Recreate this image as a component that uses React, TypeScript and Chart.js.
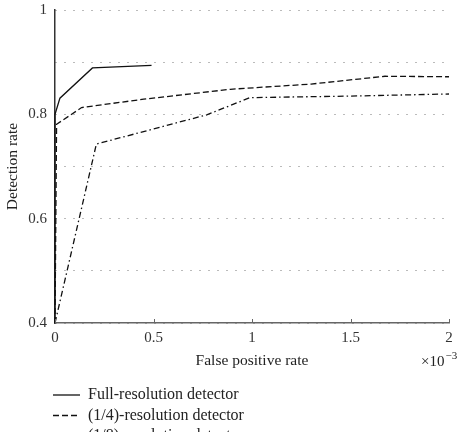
import React, { useEffect, useRef } from "react";
import { Chart, registerables } from "chart.js";

Chart.register(...registerables);

// False positive rate in units of 1e-3
const fullX = [0, 0, 0.025, 0.19, 0.49];
const fullY = [0.4, 0.8, 0.831, 0.889, 0.894];

const quarterX = [0, 0.008, 0.135, 0.45, 0.89, 1.3, 1.675, 2.0];
const quarterY = [0.4, 0.781, 0.813, 0.829, 0.848, 0.858, 0.873, 0.872];

const eighthX = [0, 0.21, 0.77, 0.99, 1.5, 2.0];
const eighthY = [0.4, 0.743, 0.799, 0.832, 0.835, 0.839];

const seriesNames = [
  "Full-resolution detector",
  "(1/4)-resolution detector",
  "(1/8)-resolution detector",
];
const xTicks = [0, 0.5, 1, 1.5, 2];
const yLabeled = ["0.4", "0.6", "0.8", "1"];
const xTitle = "False positive rate";
const yTitle = "Detection rate";
const multiplierBase = "×10";
const multiplierExp = "−3";

const FONT = "'Liberation Serif', 'DejaVu Serif', serif";
const dashes: number[][] = [[], [6, 3], [6, 3, 1.5, 3]];

export default function App() {
  const ref = useRef<HTMLCanvasElement>(null);

  useEffect(() => {
    if (!ref.current) return;
    const pts = (xs: number[], ys: number[]) => xs.map((x, i) => ({ x, y: ys[i] }));

    const overlay = {
      id: "overlay",
      afterDraw(chart: any) {
        const { ctx, chartArea, scales } = chart;
        const xs = scales.x;
        ctx.save();
        // inward x ticks
        ctx.strokeStyle = "#666";
        ctx.lineWidth = 1;
        xTicks.forEach((v) => {
          const px = Math.round(xs.getPixelForValue(v)) + 0.5;
          ctx.beginPath();
          ctx.moveTo(px, chartArea.bottom);
          ctx.lineTo(px, chartArea.bottom - 4);
          ctx.stroke();
        });
        // multiplier label
        ctx.fillStyle = "#222";
        ctx.textBaseline = "middle";
        ctx.textAlign = "left";
        ctx.font = `15px ${FONT}`;
        ctx.fillText(multiplierBase, 421, chartArea.bottom + 39);
        const bw = ctx.measureText(multiplierBase).width;
        ctx.font = `11px ${FONT}`;
        ctx.fillText(multiplierExp, 421 + bw + 1, chartArea.bottom + 33);
        // legend
        ctx.font = `16px ${FONT}`;
        chart.data.datasets.forEach((ds: any, i: number) => {
          const y = chartArea.bottom + 72 + i * 20.5;
          ctx.setLineDash(dashes[i]);
          ctx.strokeStyle = "#111";
          ctx.lineWidth = 1.3;
          ctx.beginPath();
          ctx.moveTo(53, y);
          ctx.lineTo(80, y);
          ctx.stroke();
          ctx.setLineDash([]);
          ctx.fillStyle = "#222";
          ctx.fillText(ds.label, 88, y);
        });
        ctx.restore();
      },
    };

    const chart = new Chart(ref.current, {
      type: "line",
      data: {
        datasets: [
          { label: seriesNames[0], data: pts(fullX, fullY), borderColor: "#111", borderWidth: 1.3, borderDash: dashes[0], clip: false },
          { label: seriesNames[1], data: pts(quarterX, quarterY), borderColor: "#111", borderWidth: 1.3, borderDash: dashes[1], clip: false },
          { label: seriesNames[2], data: pts(eighthX, eighthY), borderColor: "#111", borderWidth: 1.3, borderDash: dashes[2], clip: false },
        ] as any,
      },
      options: {
        animation: false,
        responsive: false,
        layout: { padding: { left: 0, right: 13, top: 10, bottom: 59 } },
        plugins: { legend: { display: false }, tooltip: { enabled: false } },
        elements: { point: { radius: 0 }, line: { tension: 0 } },
        scales: {
          x: {
            type: "linear",
            min: 0,
            max: 2,
            ticks: {
              stepSize: 0.5,
              padding: 6,
              color: "#333",
              font: { family: FONT, size: 15 },
              maxRotation: 0,
              callback: (v: any) => String(Math.round(Number(v) * 10) / 10),
            },
            grid: { display: false, drawTicks: false },
            border: { display: true, color: "#666", width: 1.5 },
            title: { display: true, text: xTitle, color: "#222", font: { family: FONT, size: 15.5 }, padding: { top: 4, bottom: 3 } },
            afterFit: (s: any) => { s.height = 50; },
          },
          y: {
            type: "linear",
            min: 0.4,
            max: 1,
            ticks: {
              stepSize: 0.1,
              padding: 8,
              color: "#333",
              font: { family: FONT, size: 15 },
              callback: (v: any) => {
                const s = String(Math.round(Number(v) * 10) / 10);
                return yLabeled.includes(s) ? s : "";
              },
            },
            grid: { color: "#777", lineWidth: 1, drawTicks: false },
            border: { color: "#333", width: 1.5, dash: [1, 8] },
            title: { display: true, text: yTitle, color: "#222", font: { family: FONT, size: 15.5 }, padding: { top: 4, bottom: 0 } },
            afterFit: (s: any) => { s.width = 55; s.paddingTop = 0; s.paddingBottom = 0; },
          },
        },
      } as any,
      plugins: [overlay],
    });
    return () => chart.destroy();
  }, []);

  return (
    <div style={{ position: "fixed", left: 0, top: 0, width: 462, height: 432, overflow: "hidden", background: "#fff" }}>
      <canvas ref={ref} width={462} height={432} style={{ display: "block" }} />
    </div>
  );
}
